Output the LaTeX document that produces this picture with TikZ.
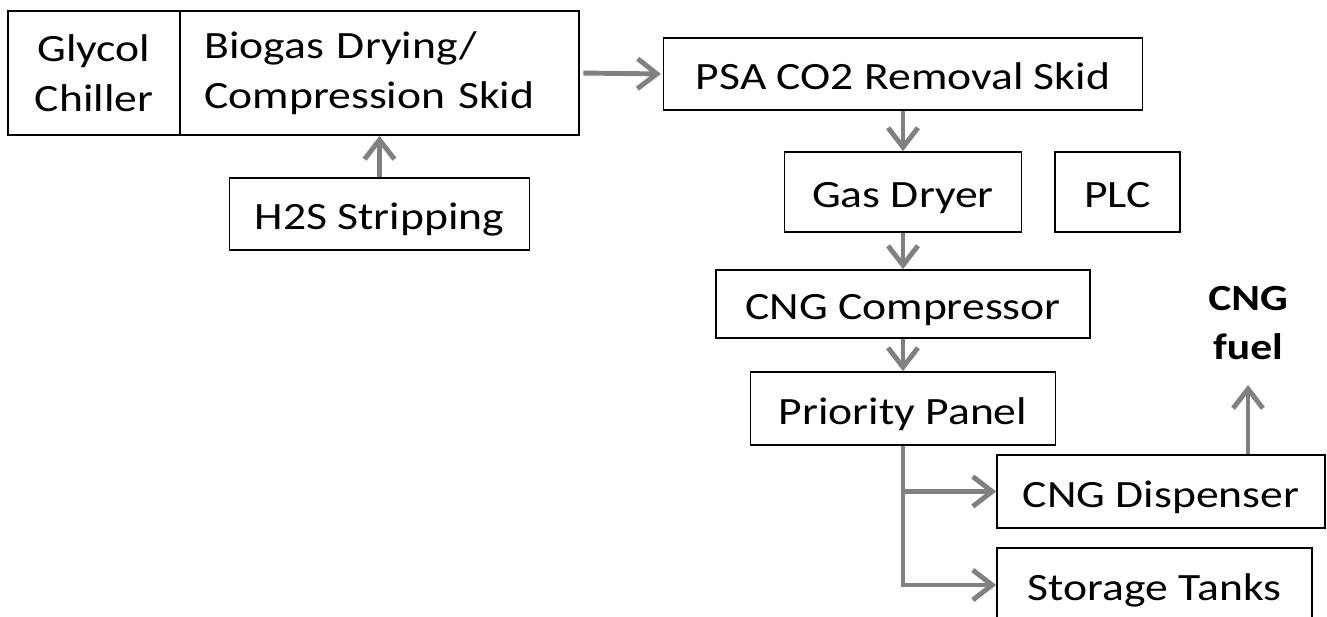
\documentclass[tikz,border=0pt]{standalone}
\usepackage{fontspec}
\setmainfont[FakeStretch=1.18]{Carlito}
\usetikzlibrary{arrows.meta}

\begin{document}
\begin{tikzpicture}[x=0.02cm,y=-0.02cm,
  box/.style={draw,line width=1pt,inner sep=0pt,align=center,
              font=\fontsize{22}{28.4}\selectfont},
  oneline/.style={text height=18pt,text depth=0pt},
  flow/.style={draw=black!50,line width=2.8pt,
               -{Straight Barb[length=11pt,width=17pt]}},
  fuellabel/.style={font=\bfseries\fontsize{21}{28.4}\selectfont,align=center,inner sep=0pt},
]
\clip (0,0) rectangle (1327,617);

% === Biogas upgrading skids ===
\node[box,minimum width=3.44cm,minimum height=2.48cm] (glycol) at (94,73) {Glycol\\Chiller};
\node[box,align=left,text width=7cm,minimum width=7.98cm,minimum height=2.48cm] (bio) at (379.5,73)
  {Biogas Drying/\\Compression Skid};
\node[box,oneline,minimum width=6.0cm,minimum height=1.44cm] (h2s) at (379.5,214) {H2S Stripping};
\node[box,oneline,minimum width=9.58cm,minimum height=1.44cm] (psa) at (903,74) {PSA CO2 Removal Skid};

% === CNG train ===
\node[box,oneline,minimum width=4.74cm,minimum height=1.6cm] (dryer) at (903,192) {Gas Dryer};
\node[box,oneline,minimum width=2.5cm,minimum height=1.6cm] (plc) at (1117.5,192) {PLC};
\node[box,oneline,minimum width=7.48cm,minimum height=1.36cm] (comp) at (903,304) {CNG Compressor};
\node[box,oneline,minimum width=6.1cm,minimum height=1.46cm] (panel) at (903,408.5) {Priority Panel};
\node[box,oneline,minimum width=6.56cm,minimum height=1.46cm] (disp) at (1161,491.5) {CNG Dispenser};
\node[box,oneline,minimum width=6.3cm,minimum height=1.48cm] (tanks) at (1154.5,585) {Storage Tanks};
\node[fuellabel] (fuel) at (1248,323) {CNG\\fuel};
\coordinate (fueltip) at (1248,385);

% connectors
\draw[flow,shorten <=2pt,shorten >=1pt] (bio.east) -- (psa.west);
\draw[flow] (h2s.north) -- (bio.south);
\draw[flow] (psa.south) -- (dryer.north);
\draw[flow] (dryer.south) -- (comp.north);
\draw[flow] (comp.south) -- (panel.north);
\draw[flow] (panel.south) |- (disp.west);
\draw[flow] (panel.south) |- (tanks.west);
\draw[flow] (disp.north -| fueltip) -- (fueltip);

\end{tikzpicture}
\end{document}
